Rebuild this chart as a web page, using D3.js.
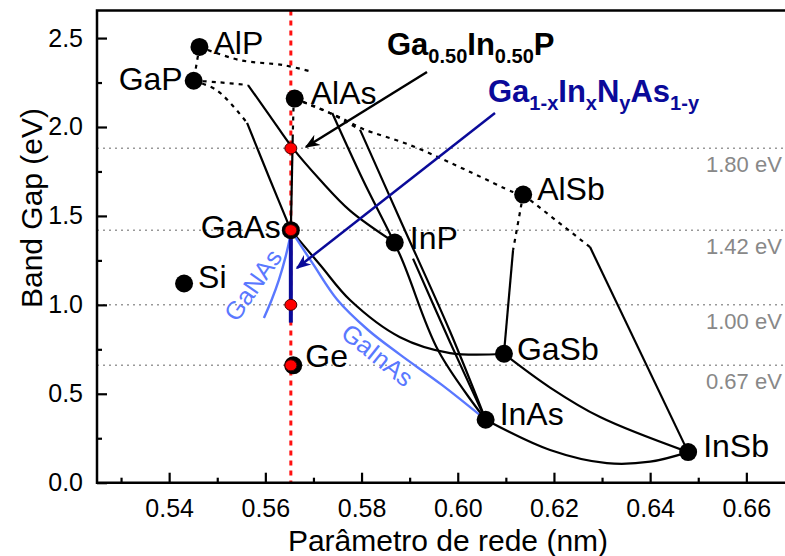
<!DOCTYPE html>
<html>
<head>
<meta charset="utf-8">
<script src="https://cdn.jsdelivr.net/npm/d3@7"></script>
<style>
body { margin: 0; background: #fff; overflow: hidden; }
svg { display: block; font-family: "Liberation Sans", Arial, sans-serif; }
</style>
</head>
<body>
<div id="chart"></div>
<script>
// binary compounds: lattice constant (nm) and band gap (eV)
var compounds = ['AlP', 'GaP', 'AlAs', 'GaAs', 'Si', 'InP', 'AlSb', 'GaSb', 'Ge', 'InAs', 'InSb'];
var latticeConst = [0.5463, 0.5451, 0.5661, 0.5653, 0.5431, 0.5869, 0.6136, 0.6096, 0.5658, 0.6058, 0.6479];
var bandGaps = [2.45, 2.26, 2.16, 1.42, 1.12, 1.35, 1.62, 0.725, 0.66, 0.354, 0.172];

// ternary curves, [lattice, gap]
// indirect parts (dotted)
var alpGap = [[0.5463, 2.45], [0.5451, 2.26]];
var alpInpInd = [[0.5463, 2.45], [0.5547, 2.376], [0.5637, 2.348], [0.5699, 2.309]];
var gapInpInd = [[0.5451, 2.26], [0.5500, 2.252], [0.5564, 2.236]];
var gapGaasInd = [[0.5451, 2.26], [0.5500, 2.205], [0.5562, 2.023]];
var alasGaasInd = [[0.5659, 2.16], [0.5657, 1.956]];
var alasAlsb = [[0.5661, 2.16], [0.5693, 2.124], [0.5734, 2.079], [0.5766, 2.040], [0.5803, 1.989], [0.5901, 1.898], [0.6026, 1.747], [0.6115, 1.635], [0.6136, 1.62]];
var alasInasInd = [[0.5661, 2.16], [0.5734, 2.079], [0.5797, 1.984]];
var alsbGasbInd = [[0.6136, 1.62], [0.6115, 1.308]];
var alsbInsbInd = [[0.6136, 1.62], [0.6275, 1.325]];

// direct parts (solid)
var alpInp = [[0.5739, 2.079], [0.5803, 1.702], [0.5880, 1.280], [0.5960, 0.740], [0.6058, 0.354]];
var gapInp = [[0.5564, 2.236], [0.5610, 2.060], [0.5657, 1.881], [0.5714, 1.702], [0.5776, 1.530], [0.5869, 1.35]];
var gapGaas = [[0.5562, 2.023], [0.5610, 1.702], [0.5653, 1.42]];
var alasGaas = [[0.5657, 1.956], [0.5653, 1.42]];
var alasInas = [[0.5797, 1.984], [0.5880, 1.480], [0.5984, 0.850], [0.6058, 0.354]];
var inpInas = [[0.5907, 1.26], [0.5984, 0.790], [0.6058, 0.354]];
var gaasGasb = [[0.5653, 1.42], [0.5714, 1.224], [0.5776, 1.027], [0.5880, 0.818], [0.5984, 0.729], [0.6096, 0.725]];
var alsbGasb = [[0.6115, 1.308], [0.6096, 0.725]];
var alsbInsb = [[0.6275, 1.325], [0.6479, 0.172]];
var gasbInsb = [[0.6096, 0.725], [0.6192, 0.535], [0.6296, 0.369], [0.6479, 0.172]];
var inasInsb = [[0.6058, 0.354], [0.6192, 0.184], [0.6310, 0.110], [0.6400, 0.118], [0.6479, 0.172]];

// GaInAs and GaNAs (light blue)
var gaasInas = [[0.5653, 1.42], [0.5699, 1.23], [0.5750, 1.027], [0.5813, 0.86], [0.5880, 0.72], [0.5967, 0.55], [0.6058, 0.354]];
var gaasGanas = [[0.5653, 1.40], [0.5642, 1.27], [0.5628, 1.139], [0.5613, 1.027], [0.5597, 0.926]];

// GaInNAs lattice-matched to GaAs
var matchedLattice = 0.5653;
var ginasRange = [1.42, 0.90];
var markerGaps = [1.88, 1.42, 1.00, 0.66];

// reference gap levels
var gapLines = [1.88, 1.42, 1.00, 0.66];
var gapLabels = ['1.80 eV', '1.42 eV', '1.00 eV', '0.67 eV'];

var xTicks = [0.54, 0.56, 0.58, 0.60, 0.62, 0.64, 0.66];
var yTicks = [0.0, 0.5, 1.0, 1.5, 2.0, 2.5];

var W = 785, H = 556;
var plotLeft = 97, plotTop = 10.5, plotBottom = 482.7;

var x = d3.scaleLinear().domain([0.525, 0.67]).range([plotLeft, plotLeft + 0.145 * 4810]);
var y = d3.scaleLinear().domain([0, 2.655]).range([plotBottom, plotTop]);

var svg = d3.select('#chart').append('svg').attr('width', W).attr('height', H);
var line = d3.line().x(function(d) { return x(d[0]); }).y(function(d) { return y(d[1]); }).curve(d3.curveCatmullRom.alpha(0.5));

var BLUE = '#5a78ff', NAVY = '#0a0a99';

// gap reference lines
svg.selectAll('.gapline').data(gapLines).enter().append('line')
	.attr('x1', plotLeft).attr('x2', W)
	.attr('y1', function(d) { return y(d); }).attr('y2', function(d) { return y(d); })
	.attr('stroke', '#999').attr('stroke-width', 1.5).attr('stroke-dasharray', '2,4');
svg.selectAll('.gaplabel').data(gapLines).enter().append('text')
	.attr('x', 706).attr('y', function(d) { return y(d) + 24; })
	.attr('font-size', 22).attr('fill', '#888')
	.text(function(d, i) { return gapLabels[i]; });

// red lattice-matched line
svg.append('line')
	.attr('x1', x(matchedLattice)).attr('x2', x(matchedLattice))
	.attr('y1', plotTop).attr('y2', plotBottom)
	.attr('stroke', '#ff1010').attr('stroke-width', 3).attr('stroke-dasharray', '5,5');

function curve(pts, dotted, color, width) {
	svg.append('path').attr('d', line(pts))
		.attr('fill', 'none').attr('stroke', color || '#000')
		.attr('stroke-width', width || 2.2)
		.attr('stroke-dasharray', dotted ? '4,5' : null);
}

[alpGap, alpInpInd, gapInpInd, gapGaasInd, alasGaasInd, alasAlsb, alasInasInd, alsbGasbInd, alsbInsbInd]
	.forEach(function(c) { curve(c, true); });
[alpInp, gapInp, gapGaas, alasGaas, alasInas, inpInas, gaasGasb, alsbGasb, alsbInsb, gasbInsb, inasInsb]
	.forEach(function(c) { curve(c, false); });
curve(gaasInas, false, BLUE, 2.4);
curve(gaasGanas, false, BLUE, 2.4);

// GaInNAs vertical
svg.append('line')
	.attr('x1', x(matchedLattice)).attr('x2', x(matchedLattice))
	.attr('y1', y(ginasRange[0])).attr('y2', y(ginasRange[1]))
	.attr('stroke', NAVY).attr('stroke-width', 4);

// binary dots
svg.selectAll('.dot').data(compounds).enter().append('circle')
	.attr('cx', function(d, i) { return x(latticeConst[i]); })
	.attr('cy', function(d, i) { return y(bandGaps[i]); })
	.attr('r', 9).attr('fill', '#000');

// red markers
svg.selectAll('.mark').data(markerGaps).enter().append('ellipse')
	.attr('cx', x(matchedLattice)).attr('cy', function(d) { return y(d); })
	.attr('rx', 6).attr('ry', 5.5)
	.attr('fill', '#ff0000').attr('stroke', '#400').attr('stroke-width', 1);

// compound labels
var labelPos = {
	AlP: [14, 7, 'start'], GaP: [-11, 9, 'end'], AlAs: [16, 5, 'start'], GaAs: [-10, 8, 'end'],
	Si: [14, 4, 'start'], InP: [15, 6, 'start'], AlSb: [14, 5, 'start'], GaSb: [13, 6, 'start'],
	Ge: [12, 2, 'start'], InAs: [14, 5, 'start'], InSb: [15, 5, 'start']
};
svg.selectAll('.lab').data(compounds).enter().append('text')
	.attr('x', function(d, i) { return x(latticeConst[i]) + labelPos[d][0]; })
	.attr('y', function(d, i) { return y(bandGaps[i]) + labelPos[d][1]; })
	.attr('text-anchor', function(d) { return labelPos[d][2]; })
	.attr('font-size', 32).attr('fill', '#000')
	.text(function(d) { return d; });

// curve names
svg.append('text').attr('transform', 'translate(260,290) rotate(-55)')
	.attr('text-anchor', 'middle').attr('font-size', 25).attr('fill', BLUE).text('GaNAs');
svg.append('text').attr('transform', 'translate(372,362) rotate(38.7)')
	.attr('text-anchor', 'middle').attr('font-size', 25).attr('fill', BLUE).text('GaInAs');

// arrows
var defs = svg.append('defs');
[['arrK', '#000'], ['arrB', NAVY]].forEach(function(m) {
	defs.append('marker').attr('id', m[0]).attr('viewBox', '0 0 10 10')
		.attr('refX', 9).attr('refY', 5).attr('markerWidth', 6).attr('markerHeight', 6)
		.attr('orient', 'auto').attr('markerUnits', 'strokeWidth')
		.append('path').attr('d', 'M0,1 L10,5 L0,9 L3,5 Z').attr('fill', m[1]);
});
svg.append('line').attr('x1', 427).attr('y1', 72).attr('x2', 306).attr('y2', 147)
	.attr('stroke', '#000').attr('stroke-width', 2.5).attr('marker-end', 'url(#arrK)');
svg.append('line').attr('x1', 495).attr('y1', 113).attr('x2', 297).attr('y2', 268)
	.attr('stroke', NAVY).attr('stroke-width', 2.5).attr('marker-end', 'url(#arrB)');

// formula labels
var f1 = svg.append('text').attr('x', 387).attr('y', 55).attr('font-size', 31).attr('font-weight', 'bold').attr('fill', '#000');
f1.append('tspan').text('Ga');
f1.append('tspan').attr('font-size', 20).attr('dy', 8).text('0.50');
f1.append('tspan').attr('dy', -8).text('In');
f1.append('tspan').attr('font-size', 20).attr('dy', 8).text('0.50');
f1.append('tspan').attr('dy', -8).text('P');

var f2 = svg.append('text').attr('x', 488).attr('y', 102).attr('font-size', 31).attr('font-weight', 'bold').attr('fill', NAVY);
f2.append('tspan').text('Ga');
f2.append('tspan').attr('font-size', 20).attr('dy', 8).text('1-x');
f2.append('tspan').attr('dy', -8).text('In');
f2.append('tspan').attr('font-size', 20).attr('dy', 8).text('x');
f2.append('tspan').attr('dy', -8).text('N');
f2.append('tspan').attr('font-size', 20).attr('dy', 8).text('y');
f2.append('tspan').attr('dy', -8).text('As');
f2.append('tspan').attr('font-size', 20).attr('dy', 8).text('1-y');

// axes
var xAxis = d3.axisBottom(x).tickValues(xTicks).tickSize(-10).tickPadding(17).tickFormat(d3.format('.2f'));
var xMinor = d3.axisBottom(x).tickValues(d3.range(0.53, 0.671, 0.02)).tickSize(-5).tickFormat('');
var yAxis = d3.axisLeft(y).tickValues(yTicks).tickSize(-10).tickPadding(14).tickFormat(d3.format('.1f'));
var yMinor = d3.axisLeft(y).tickValues([0.25, 0.75, 1.25, 1.75, 2.25]).tickSize(-5).tickFormat('');

function styleAxis(g) {
	g.select('.domain').remove();
	g.selectAll('line').attr('stroke', '#000').attr('stroke-width', 2.2);
	g.selectAll('text').attr('font-size', 25).attr('fill', '#000').attr('font-family', '"Liberation Sans", Arial, sans-serif');
}
svg.append('g').attr('transform', 'translate(0,' + plotBottom + ')').call(xAxis).call(styleAxis);
svg.append('g').attr('transform', 'translate(0,' + plotBottom + ')').call(xMinor).call(styleAxis);
svg.append('g').attr('transform', 'translate(' + plotLeft + ',0)').call(yAxis).call(styleAxis);
svg.append('g').attr('transform', 'translate(' + plotLeft + ',0)').call(yMinor).call(styleAxis);

// frame
svg.append('path').attr('d', 'M' + W + ',' + plotTop + 'H' + plotLeft + 'V' + plotBottom + 'H' + W)
	.attr('fill', 'none').attr('stroke', '#000').attr('stroke-width', 2.5);

// axis titles
svg.append('text').attr('x', 448).attr('y', 551).attr('text-anchor', 'middle')
	.attr('font-size', 30).text('Parâmetro de rede (nm)');
svg.append('text').attr('transform', 'translate(42,208) rotate(-90)')
	.attr('text-anchor', 'middle').attr('font-size', 30).text('Band Gap (eV)');
</script>
</body>
</html>
